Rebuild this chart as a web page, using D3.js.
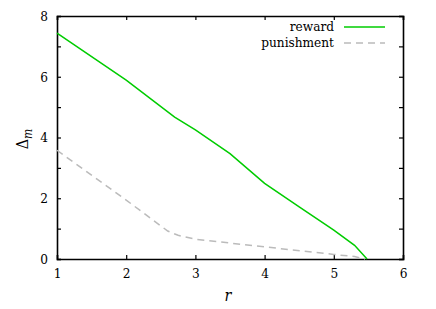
<!DOCTYPE html>
<html>
<head>
<meta charset="utf-8">
<script src="https://cdn.jsdelivr.net/npm/d3@7"></script>
<style>
  body { margin: 0; background: #fff; }
  svg text { font-family: "DejaVu Serif Condensed", "DejaVu Serif", serif; font-stretch: condensed; }
</style>
</head>
<body>
<div id="chart"></div>
<script>
"use strict";

// values
const rewardR = [1, 2, 2.7, 3, 3.5, 4, 4.5, 5, 5.3, 5.48];
const rewardD = [7.44, 5.89, 4.67, 4.25, 3.47, 2.49, 1.72, 0.95, 0.45, 0];
const punishR = [1, 2, 2.6, 2.75, 3, 4, 5, 5.3, 5.45];
const punishD = [3.58, 1.94, 0.92, 0.78, 0.65, 0.4, 0.15, 0.08, 0];
const xTicks = [1, 2, 3, 4, 5, 6];
const yTicks = [0, 1, 2, 3, 4, 5, 6, 7, 8];
const yLabels = [0, 2, 4, 6, 8];

const msm = { width: 436, height: 309, left: 57, right: 403, top: 16, bottom: 259 };

let svg = d3.select("#chart").append("svg")
    .attr("width", msm.width)
    .attr("height", msm.height);

let xScale = d3.scaleLinear().domain([1, 6]).range([msm.left, msm.right]);
let yScale = d3.scaleLinear().domain([0, 8]).range([msm.bottom, msm.top]);

// axes: ticks pointing inward, on all four sides
svg.append("g")
    .attr("transform", "translate(0," + msm.bottom + ")")
    .call(d3.axisBottom(xScale).tickValues(xTicks).tickSize(-4).tickPadding(9).tickFormat(d3.format("d")));
svg.append("g")
    .attr("transform", "translate(0," + msm.top + ")")
    .call(d3.axisTop(xScale).tickValues(xTicks).tickSize(-4).tickFormat(""));
svg.append("g")
    .attr("transform", "translate(" + msm.left + ",0)")
    .call(d3.axisLeft(yScale).tickValues(yTicks).tickSize(-4).tickPadding(9)
        .tickFormat(d => yLabels.includes(d) ? d : ""));
svg.append("g")
    .attr("transform", "translate(" + msm.right + ",0)")
    .call(d3.axisRight(yScale).tickValues(yTicks).tickSize(-4).tickFormat(""));

svg.selectAll("g").attr("font-family", null);
svg.selectAll(".domain").attr("stroke", "#000").attr("stroke-width", 1.6);
svg.selectAll(".tick line").attr("stroke", "#000").attr("stroke-width", 1.2);
svg.selectAll(".tick text")
    .style("font-size", "13.5px")
    .attr("fill", "#000");

let line = d3.line()
    .x(d => xScale(d[0]))
    .y(d => yScale(d[1]));

svg.append("path")
    .datum(punishR.map((r, i) => [r, punishD[i]]))
    .attr("d", line)
    .attr("fill", "none")
    .attr("stroke", "#bbbbbb")
    .attr("stroke-width", 1.5)
    .attr("stroke-dasharray", "7,5");

svg.append("path")
    .datum(rewardR.map((r, i) => [r, rewardD[i]]))
    .attr("d", line)
    .attr("fill", "none")
    .attr("stroke", "#00cc00")
    .attr("stroke-width", 1.5);

// legend
const legend = [
    { name: "reward", color: "#00cc00", dash: null, y: 27 },
    { name: "punishment", color: "#bbbbbb", dash: "7,5", y: 43 }
];
legend.forEach(function (l) {
    svg.append("text")
        .attr("x", 334)
        .attr("y", l.y)
        .attr("dy", "0.32em")
        .attr("text-anchor", "end")
        .style("font-size", "13.5px")
        .text(l.name);
    svg.append("line")
        .attr("x1", 344).attr("x2", 385)
        .attr("y1", l.y).attr("y2", l.y)
        .attr("stroke", l.color)
        .attr("stroke-width", 1.5)
        .attr("stroke-dasharray", l.dash);
});

// axis labels
svg.append("text")
    .attr("x", 228)
    .attr("y", 301)
    .attr("text-anchor", "middle")
    .style("font-size", "16px")
    .style("font-style", "italic")
    .text("r");

let yl = svg.append("text")
    .attr("transform", "translate(28,139) rotate(-90)")
    .attr("text-anchor", "middle")
    .style("font-size", "16px");
yl.append("tspan").text("Δ");
yl.append("tspan").attr("dy", 4).style("font-size", "12px").style("font-style", "italic").text("m");
</script>
</body>
</html>
